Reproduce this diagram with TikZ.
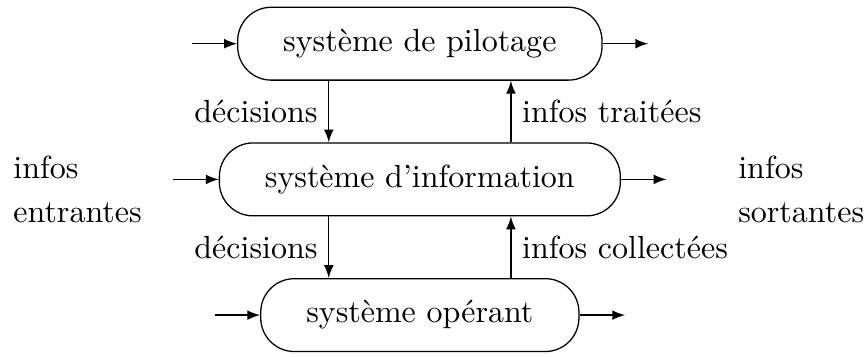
\documentclass[tikz,border=0pt]{standalone}
\usepackage{tikz}
\usetikzlibrary{arrows,positioning}

\begin{document}
\begin{tikzpicture}[->,>=latex,node distance=0.5cm,
  sys node/.style={draw,rounded corners=10.5pt,minimum height=0.8cm,inner xsep=0.5cm},
  io label/.style={align=left,inner sep=0pt}]

  \useasboundingbox (0,0) rectangle (9.52,3.91);

  \node[sys node] (pilot) at (4.61,3.43) {système de pilotage};
  \node[sys node] (info)  at (4.61,1.94) {système d'information};
  \node[sys node] (oper)  at (4.61,0.45) {système opérant};

  \coordinate[left=of pilot]  (pin);
  \coordinate[right=of pilot] (pout);
  \coordinate[left=of info]   (iin);
  \coordinate[right=of info]  (iout);
  \coordinate[left=of oper]   (oin);
  \coordinate[right=of oper]  (oout);

  \node[io label,anchor=north west] (entr) at (0.14,2.20) {infos\\[1.5pt]entrantes};
  \node[io label,anchor=north west] (sort) at (8.10,2.20) {infos\\[1.5pt]sortantes};

  \path
    (pin) edge (pilot)
    (pilot) edge (pout)
    (iin) edge (info)
    (info) edge (iout)
    (oin) edge (oper)
    (oper) edge (oout)
    % pilotage <-> information
    ([xshift=-1cm]pilot.south) edge node[left] {décisions} ([xshift=-1cm]info.north)
    ([xshift=1cm]info.north) edge node[right] {infos traitées} ([xshift=1cm]pilot.south)
    % information <-> operant
    ([xshift=-1cm]info.south) edge node[left] {décisions} ([xshift=-1cm]oper.north)
    ([xshift=1cm]oper.north) edge node[right] {infos collectées} ([xshift=1cm]info.south);
\end{tikzpicture}
\end{document}
